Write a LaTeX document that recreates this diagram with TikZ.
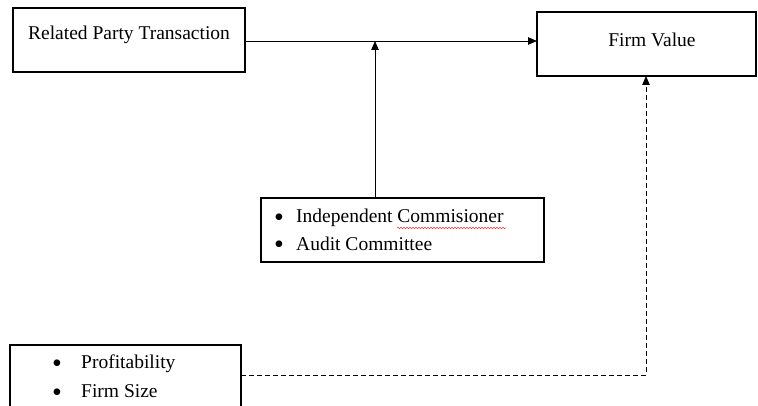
\documentclass[tikz,border=0pt]{standalone}
\usepackage{fontspec}
\setmainfont{Liberation Serif}
\usetikzlibrary{arrows.meta,decorations.pathmorphing}
\begin{document}
\begin{tikzpicture}[x=1pt,y=-1pt,
  box/.style={draw, line width=1.5pt, inner sep=0pt, outer sep=0pt, anchor=north west},
  lbl/.style={inner sep=0pt, font=\fontsize{19.5}{22}\selectfont},
  item/.style={inner sep=0pt, anchor=west, font=\fontsize{19.5}{22}\selectfont},
  bul/.style={inner sep=0pt, anchor=base, text height=12pt, text depth=0pt, font=\fontsize{28}{28}\selectfont},
  conn/.style={line width=0.8pt, -{Triangle[length=9pt,width=7.5pt]}},
  dconn/.style={line width=0.8pt, dash pattern=on 5pt off 3pt, -{Triangle[length=9pt,width=7.5pt]}}]
\useasboundingbox (0,0) rectangle (758,406);
% boxes
\node[box, minimum width=232pt, minimum height=64pt] (rpt) at (13,8) {};
\node[box, minimum width=219pt, minimum height=64pt] (fv) at (537,12) {};
\node[box, minimum width=283pt, minimum height=64pt] (ind) at (261,198) {};
\node[box, minimum width=231pt, minimum height=80pt] (prof) at (10,345) {};
% texts
\node[lbl] (t1) at (129,35) {Related Party Transaction};
\node[lbl] (t2) at (652,40) {Firm Value};
\node[bul] (b1) at (279,227) {\textbullet};
\node[item] (i1) at (296,218) {Independent Commisioner};
\node[bul] (b2) at (279,254) {\textbullet};
\node[item] (i2) at (296,244) {Audit Committee};
\node[bul] (b3) at (57,372) {\textbullet};
\node[item] (p1) at (81,364) {Profitability};
\node[bul] (b4) at (57,401) {\textbullet};
\node[item] (p2) at (81,391) {Firm Size};
% spell-check underline
\draw[red!80, line width=0.5pt, decorate, decoration={snake, segment length=3pt, amplitude=0.8pt}] (397,228) -- (506,228);
% connectors
\coordinate (j) at (375,41);
\coordinate (d) at (646,375);
\draw[conn] (rpt.east |- j) -- (fv.west |- j);
\draw[conn] (ind.north -| j) -- (j);
\draw[dconn] (prof.east |- d) -- (d) -- (d |- fv.south);
\end{tikzpicture}
\end{document}
